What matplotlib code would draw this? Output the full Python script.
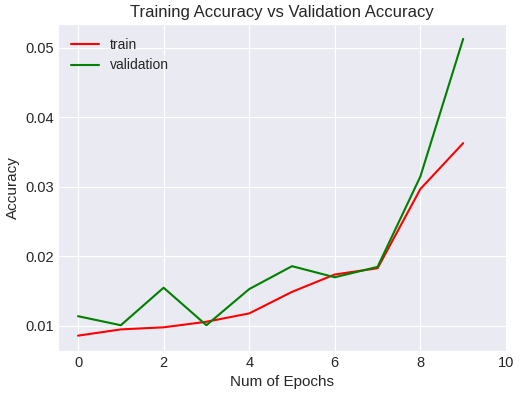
import numpy as np
import matplotlib
matplotlib.use("Agg")
import matplotlib.pyplot as plt

epochs = [0, 1, 2, 3, 4, 5, 6, 7, 8, 9]
train_acc = [0.0086, 0.0095, 0.0098, 0.0106, 0.0118, 0.0149, 0.0174, 0.0183, 0.0297, 0.0363]
val_acc = [0.0114, 0.0101, 0.0155, 0.0101, 0.0153, 0.0186, 0.0170, 0.0185, 0.0315, 0.0513]

plt.style.use("seaborn-v0_8-darkgrid")
plt.rcParams["font.family"] = ["Liberation Sans", "DejaVu Sans"]

fig = plt.figure(figsize=(5.2, 3.97), dpi=100)
ax = fig.add_axes([0.113, 0.116, 0.86, 0.821])

ax.plot(epochs, train_acc, color="red", label="train", linewidth=1.5)
ax.plot(epochs, val_acc, color="green", label="validation", linewidth=1.5)

ax.set_xlim(-0.45, 10)
ax.set_ylim(0.0064, 0.0533)
ax.set_xticks([0, 2, 4, 6, 8, 10])
ax.set_yticks([0.01, 0.02, 0.03, 0.04, 0.05])
ax.tick_params(labelsize=10.5, colors=".15")

ax.set_title("Training Accuracy vs Validation Accuracy", fontsize=12, color=".15")
ax.set_xlabel("Num of Epochs", fontsize=11, color=".15")
ax.set_ylabel("Accuracy", fontsize=11, color=".15")
ax.legend(loc="upper left", fontsize=10)

fig.savefig("out.png", dpi=100)
